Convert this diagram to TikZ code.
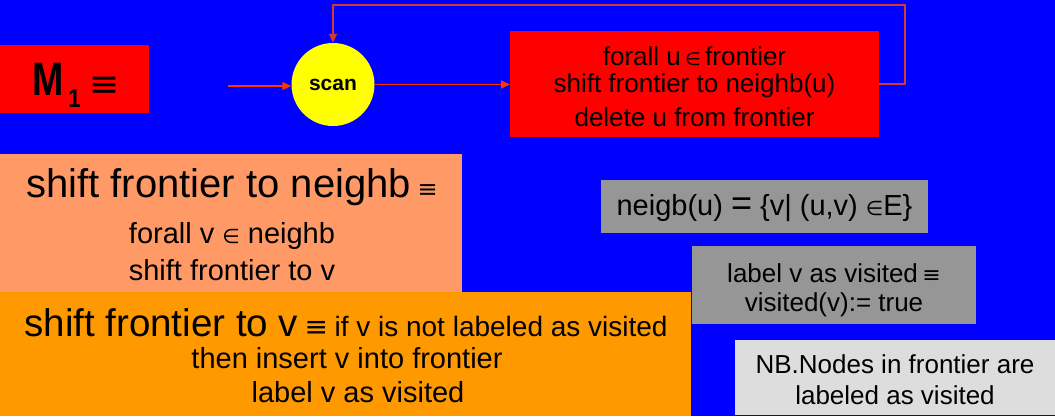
\documentclass[tikz,border=0pt]{standalone}
\usepackage{fontspec}
\setmainfont{Liberation Sans}
\newfontfamily\symf{DejaVu Sans}
\usetikzlibrary{arrows.meta}
\definecolor{bgblue}{RGB}{0,0,255}
\definecolor{boxred}{RGB}{255,0,0}
\definecolor{scanyellow}{RGB}{255,255,0}
\definecolor{salmon}{RGB}{255,153,102}
\definecolor{orangebox}{RGB}{255,153,0}
\definecolor{graybox}{RGB}{150,150,150}
\definecolor{lightbox}{RGB}{221,221,221}
\definecolor{arrowred}{RGB}{255,51,0}
\definecolor{loopred}{RGB}{214,56,56}
\newcommand{\fs}[1]{\fontsize{#1}{#1}\selectfont}
\newcommand{\eqv}[1]{{\symf\fontsize{#1}{#1}\selectfont ≡}}
\newcommand{\elt}[1]{{\symf\fontsize{#1}{#1}\selectfont ∈}}
\tikzset{
  panel/.style={anchor=north west, inner sep=0pt, outer sep=0pt, draw=none},
  txt/.style={inner sep=0pt, outer sep=0pt, align=center, text=black},
  flow/.style={draw=arrowred, line width=1.5pt, -{Triangle[length=9pt,width=8pt]}},
  loop/.style={draw=loopred, line width=1.6pt, -{Triangle[length=9pt,width=8pt]}, color=loopred}
}
\begin{document}
\begin{tikzpicture}[x=1pt,y=-1pt]
\fill[bgblue] (0,0) rectangle (1055,416);
\useasboundingbox (0,0) rectangle (1055,416);

% M1 box
\node[panel, fill=boxred, minimum width=149pt, minimum height=68pt] (m1box) at (0,45) {};
\node[txt, anchor=base west] (m1) at (32,95) {\scalebox{0.8}[1]{\fs{47}\bfseries M}\hspace{5pt}\raisebox{-12pt}{\scalebox{0.85}[1]{\fs{26}\bfseries 1}}\hspace{9pt}\raisebox{-1pt}{\eqv{36}}};

% scan circle
\node[circle, fill=scanyellow, minimum size=83pt, inner sep=0pt] (scan) at (333,84.5) {\fs{21}\bfseries scan};
\coordinate (in) at (228,86);

% red box
\node[panel, fill=boxred, minimum width=369pt, minimum height=106pt] (redbox) at (510,31) {};
\node[txt, anchor=center] (r1) at (694.5,56) {\fs{26}forall u\,\elt{18}\,frontier};
\node[txt, anchor=center] (r2) at (694.5,86) {\fs{26}shift frontier to neighb(u)};
\node[txt, anchor=center] (r3) at (694.5,117) {\fs{26}delete u from frontier};

% connectors
\draw[flow] (in) -- (in -| scan.west);
\draw[flow] (scan.east) -- (scan.east -| redbox.west);
\coordinate (lp1) at (905,84);
\coordinate (lp2) at (905,5);
\coordinate (lp3) at (333,5);
\draw[loop] (redbox.west |- lp1) ++(369,0) -- (lp1) -- (lp2) -- (lp3) -- (scan.north);

% salmon box
\node[panel, fill=salmon, minimum width=462pt, minimum height=138pt] (salbox) at (0,154) {};
\node[txt, anchor=center] (s1) at (232,187) {\fs{40}shift frontier to neighb\,\eqv{24}};
\node[txt, anchor=center] (s2) at (232,236) {\fs{29}forall v \elt{20} neighb};
\node[txt, anchor=center] (s3) at (232,270) {\fs{29}shift frontier to v};

% orange box
\node[panel, fill=orangebox, minimum width=691pt, minimum height=124pt] (orbox) at (0,292) {};
\node[txt, anchor=center] (o1) at (346,323) {\fs{38.5}shift frontier to v\,\eqv{28}\,\fs{28}if v is not labeled as visited};
\node[txt, anchor=center] (o2) at (347,358) {\fs{29}then insert v into frontier};
\node[txt, anchor=center] (o3) at (358,392) {\fs{29}label v as visited};

% gray box 1
\node[panel, fill=graybox, minimum width=327pt, minimum height=53pt] (g1box) at (601,180) {};
\node[txt, anchor=center] (g1) at (764.5,208) {\fs{29}neigb(u) {\fs{36}=} \{v| (u,v) \elt{20}E\}};

% gray box 2
\node[panel, fill=graybox, minimum width=284pt, minimum height=78pt] (g2box) at (692,246) {};
\node[txt, anchor=center] (g2a) at (834,273) {\fs{26}label v as visited\,\eqv{22}};
\node[txt, anchor=center] (g2b) at (834,305) {\fs{26}visited(v):= true};

% light box
\node[panel, fill=lightbox, minimum width=320pt, minimum height=75pt] (nbbox) at (735,340) {};
\node[txt, anchor=center] (nb1) at (895,364) {\fs{26}NB.Nodes in frontier are};
\node[txt, anchor=center] (nb2) at (895,395) {\fs{26}labeled as visited};
\end{tikzpicture}
\end{document}
